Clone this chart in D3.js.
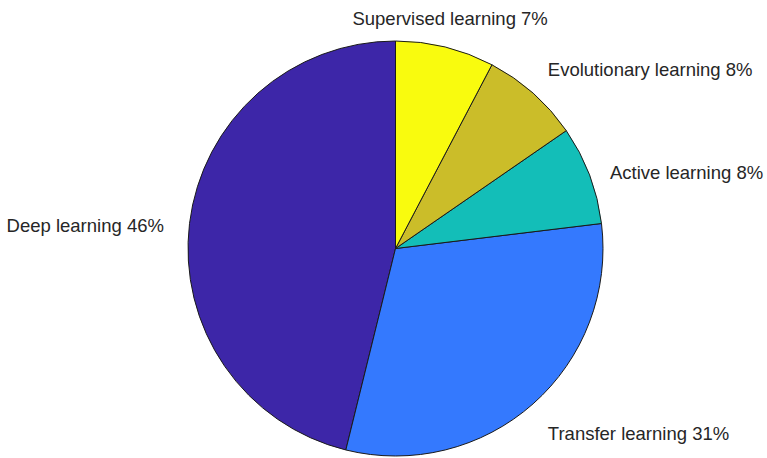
<!DOCTYPE html>
<html>
<head>
<meta charset="utf-8">
<script src="https://cdn.jsdelivr.net/npm/d3@7"></script>
<style>
html,body{margin:0;padding:0;background:#fff;}
svg{display:block;}
text{font-family:"Liberation Sans", Arial, sans-serif;}
</style>
</head>
<body>
<svg id="chart" width="767" height="458"></svg>
<script>
// Data in MATLAB order (drawn counter-clockwise from 12 o'clock)
const categories = ["Deep learning", "Transfer learning", "Active learning", "Evolutionary learning", "Supervised learning"];
const values = [6, 4, 1, 1, 1];
const percentLabels = ["46%", "31%", "8%", "8%", "7%"];
const colors = ["#3D26A8", "#3479FE", "#13BEB8", "#CBBD29", "#F9FB0E"];

const W = 767, H = 458;
const cx = 395.5, cy = 248.5, R = 207.5;
const svg = d3.select("#chart");
const g = svg.append("g").attr("transform", `translate(${cx},${cy})`);

const pie = d3.pie().sort(null).value(d => d.v).startAngle(0).endAngle(-2 * Math.PI);
const arcs = pie(categories.map((c, i) => ({c, v: values[i], p: percentLabels[i], col: colors[i]})));
const arc = d3.arc().innerRadius(0).outerRadius(R);

g.selectAll("path").data(arcs).join("path")
  .attr("d", arc)
  .attr("fill", d => d.data.col)
  .attr("stroke", "#1a1a1a")
  .attr("stroke-width", 1)
  .attr("stroke-linejoin", "round");

const LR = R * 1.1;
g.selectAll("text.lbl").data(arcs).join("text")
  .attr("class", "lbl")
  .each(function(d) {
    const a = (d.startAngle + d.endAngle) / 2;
    const s = Math.sin(a), c = Math.cos(a);
    let x = LR * s;
    const y = -LR * c;
    const anchor = Math.abs(s) < 0.3 ? "middle" : (s > 0 ? "start" : "end");
    if (anchor === "end") x -= 5;
    if (anchor === "start") x += 1;
    let dy;
    if (c > 0.5) dy = -2;
    else if (c < -0.5) dy = 21;
    else dy = 11;
    d3.select(this)
      .attr("x", x).attr("y", y + dy)
      .attr("text-anchor", anchor)
      .attr("font-size", 18.5)
      .attr("fill", "#262626")
      .text(d.data.c + " " + d.data.p);
  });
</script>
</body>
</html>
